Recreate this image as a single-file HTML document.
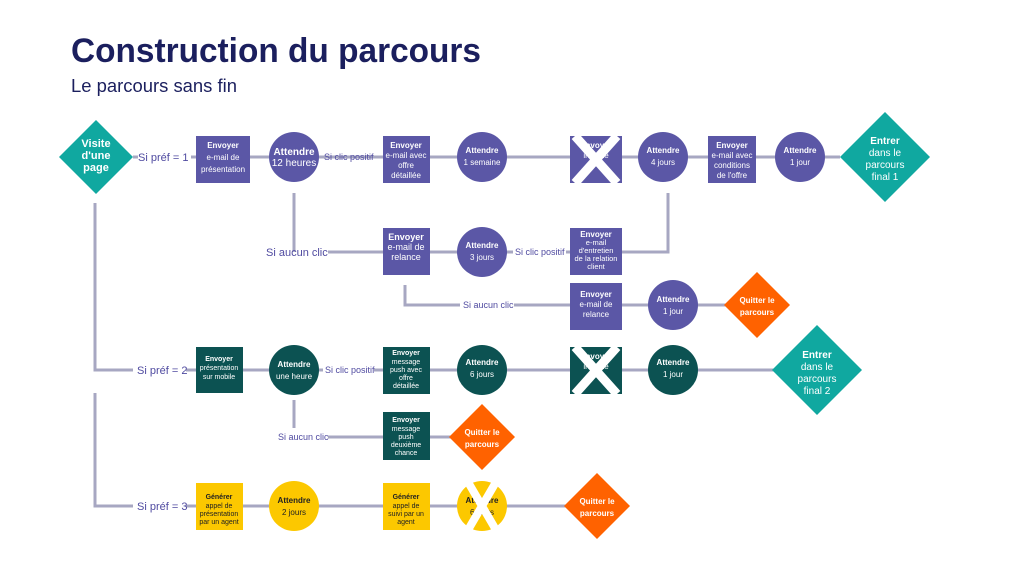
<!DOCTYPE html>
<html><head><meta charset="utf-8"><style>
html,body{margin:0;padding:0;background:#fff;}
svg{display:block;font-family:"Liberation Sans",sans-serif;}
</style></head><body>
<svg width="1024" height="576" viewBox="0 0 1024 576" xmlns="http://www.w3.org/2000/svg">
<defs>
<style>
.ln{stroke:#a7a7c2;stroke-width:3;fill:none}
.lb{fill:#4f4aa0;font-size:11px}
.ls{fill:#4f4aa0;font-size:9px}
.w{fill:#fff;text-anchor:middle}
.k{fill:#222;text-anchor:middle}
</style>
</defs>
<text x="71" y="62" font-size="34" font-weight="bold" fill="#1b1f5e" textLength="410" lengthAdjust="spacingAndGlyphs">Construction du parcours</text>
<text x="71" y="92" font-size="18" fill="#1b1f5e" textLength="166" lengthAdjust="spacingAndGlyphs">Le parcours sans fin</text>

<!-- lines -->
<path class="ln" d="M133 157H138 M191 157H840"/>
<path class="ln" d="M294 193V252 M328 252H383 M430 252H513 M566 252H570 M622 252H668V193"/>
<path class="ln" d="M405 285V305H460 M514 305H570 M622 305H740"/>
<path class="ln" d="M95 203V370H133 M186 370H196 M243 370H323 M374 370H383 M430 370H790"/>
<path class="ln" d="M294 400V428 M328 437H383 M430 437H460"/>
<path class="ln" d="M95 393V506H133 M186 506H196 M243 506H570"/>

<!-- row labels -->
<text class="lb" x="138" y="161" font-size="12">Si préf  = 1</text>
<text class="ls" x="324" y="160">Si clic positif</text>
<text class="lb" x="266" y="256" font-size="12">Si aucun clic</text>
<text class="ls" x="515" y="255">Si clic positif</text>
<text class="ls" x="463" y="308">Si aucun clic</text>
<text class="lb" x="137" y="374">Si préf = 2</text>
<text class="ls" x="325" y="373">Si clic positif</text>
<text class="ls" x="278" y="440">Si aucun clic</text>
<text class="lb" x="137" y="510">Si préf = 3</text>

<!-- Row 1 -->
<polygon points="96,120 133,157 96,194 59,157" fill="#10a8a0"/>
<text class="w" x="96" y="147" font-size="11" font-weight="bold">Visite</text>
<text class="w" x="96" y="159" font-size="11" font-weight="bold">d'une</text>
<text class="w" x="96" y="171" font-size="11" font-weight="bold">page</text>

<rect x="196" y="136" width="54" height="47" fill="#5b57a6"/>
<text class="w" x="223" y="148" font-size="8" font-weight="bold">Envoyer</text>
<text class="w" x="223" y="160" font-size="8">e-mail de</text>
<text class="w" x="223" y="172" font-size="8">présentation</text>

<circle cx="294" cy="157" r="25" fill="#5b57a6"/>
<text class="w" x="294" y="155" font-size="10" font-weight="bold">Attendre</text>
<text class="w" x="294" y="166" font-size="10">12 heures</text>

<rect x="383" y="136" width="47" height="47" fill="#5b57a6"/>
<text class="w" x="406" y="148" font-size="8" font-weight="bold">Envoyer</text>
<text class="w" x="406" y="158" font-size="8">e-mail avec</text>
<text class="w" x="406" y="168" font-size="8">offre</text>
<text class="w" x="406" y="178" font-size="8">détaillée</text>

<circle cx="482" cy="157" r="25" fill="#5b57a6"/>
<text class="w" x="482" y="153" font-size="8" font-weight="bold">Attendre</text>
<text class="w" x="482" y="165" font-size="8">1 semaine</text>

<rect x="570" y="136" width="52" height="47" fill="#5b57a6"/>
<text class="w" x="596" y="148" font-size="8" font-weight="bold">Envoyer</text>
<text class="w" x="596" y="158" font-size="8">inscrite</text>
<path d="M575 136L617 183M617 136L575 183" stroke="#fff" stroke-width="9"/>

<circle cx="663" cy="157" r="25" fill="#5b57a6"/>
<text class="w" x="663" y="153" font-size="8" font-weight="bold">Attendre</text>
<text class="w" x="663" y="165" font-size="8">4 jours</text>

<rect x="708" y="136" width="48" height="47" fill="#5b57a6"/>
<text class="w" x="732" y="148" font-size="8" font-weight="bold">Envoyer</text>
<text class="w" x="732" y="158" font-size="8">e-mail avec</text>
<text class="w" x="732" y="168" font-size="8">conditions</text>
<text class="w" x="732" y="178" font-size="8">de l'offre</text>

<circle cx="800" cy="157" r="25" fill="#5b57a6"/>
<text class="w" x="800" y="153" font-size="8" font-weight="bold">Attendre</text>
<text class="w" x="800" y="165" font-size="8">1 jour</text>

<polygon points="885,112 930,157 885,202 840,157" fill="#10a8a0"/>
<text class="w" x="885" y="144" font-size="10" font-weight="bold">Entrer</text>
<text class="w" x="885" y="156" font-size="10">dans le</text>
<text class="w" x="885" y="168" font-size="10">parcours</text>
<text class="w" x="885" y="180" font-size="10">final 1</text>

<!-- Row 2 -->
<rect x="383" y="228" width="47" height="47" fill="#5b57a6"/>
<text class="w" x="406" y="240" font-size="9" font-weight="bold">Envoyer</text>
<text class="w" x="406" y="250" font-size="9">e-mail de</text>
<text class="w" x="406" y="260" font-size="9">relance</text>

<circle cx="482" cy="252" r="25" fill="#5b57a6"/>
<text class="w" x="482" y="248" font-size="8" font-weight="bold">Attendre</text>
<text class="w" x="482" y="260" font-size="8">3 jours</text>

<rect x="570" y="228" width="52" height="47" fill="#5b57a6"/>
<text class="w" x="596" y="237" font-size="8" font-weight="bold">Envoyer</text>
<text class="w" x="596" y="245" font-size="7.5">e-mail</text>
<text class="w" x="596" y="253" font-size="7.5">d'entretien</text>
<text class="w" x="596" y="261" font-size="7.5">de la relation</text>
<text class="w" x="596" y="269" font-size="7.5">client</text>

<!-- Row 3 -->
<rect x="570" y="283" width="52" height="47" fill="#5b57a6"/>
<text class="w" x="596" y="297" font-size="8" font-weight="bold">Envoyer</text>
<text class="w" x="596" y="307" font-size="8">e-mail de</text>
<text class="w" x="596" y="317" font-size="8">relance</text>

<circle cx="673" cy="305" r="25" fill="#5b57a6"/>
<text class="w" x="673" y="302" font-size="8" font-weight="bold">Attendre</text>
<text class="w" x="673" y="314" font-size="8">1 jour</text>

<polygon points="757,272 790,305 757,338 724,305" fill="#ff6200"/>
<text class="w" x="757" y="303" font-size="8" font-weight="bold">Quitter le</text>
<text class="w" x="757" y="315" font-size="8" font-weight="bold">parcours</text>

<!-- Row 4 -->
<rect x="196" y="347" width="47" height="46" fill="#0c5252"/>
<text class="w" x="219" y="361" font-size="7" font-weight="bold">Envoyer</text>
<text class="w" x="219" y="370" font-size="7">présentation</text>
<text class="w" x="219" y="379" font-size="7">sur mobile</text>

<circle cx="294" cy="370" r="25" fill="#0c5252"/>
<text class="w" x="294" y="367" font-size="8" font-weight="bold">Attendre</text>
<text class="w" x="294" y="379" font-size="8">une heure</text>

<rect x="383" y="347" width="47" height="47" fill="#0c5252"/>
<text class="w" x="406" y="355" font-size="7" font-weight="bold">Envoyer</text>
<text class="w" x="406" y="364" font-size="7">message</text>
<text class="w" x="406" y="372" font-size="7">push avec</text>
<text class="w" x="406" y="380" font-size="7">offre</text>
<text class="w" x="406" y="388" font-size="7">détaillée</text>

<circle cx="482" cy="370" r="25" fill="#0c5252"/>
<text class="w" x="482" y="365" font-size="8" font-weight="bold">Attendre</text>
<text class="w" x="482" y="377" font-size="8">6 jours</text>

<rect x="570" y="347" width="52" height="47" fill="#0c5252"/>
<text class="w" x="596" y="359" font-size="8" font-weight="bold">Envoyer</text>
<text class="w" x="596" y="369" font-size="8">inscrite</text>
<path d="M575 347L617 394M617 347L575 394" stroke="#fff" stroke-width="9"/>

<circle cx="673" cy="370" r="25" fill="#0c5252"/>
<text class="w" x="673" y="365" font-size="8" font-weight="bold">Attendre</text>
<text class="w" x="673" y="377" font-size="8">1 jour</text>

<polygon points="817,325 862,370 817,415 772,370" fill="#10a8a0"/>
<text class="w" x="817" y="358" font-size="10" font-weight="bold">Entrer</text>
<text class="w" x="817" y="370" font-size="10">dans le</text>
<text class="w" x="817" y="382" font-size="10">parcours</text>
<text class="w" x="817" y="394" font-size="10">final 2</text>

<!-- Row 5 -->
<rect x="383" y="412" width="47" height="48" fill="#0c5252"/>
<text class="w" x="406" y="422" font-size="7" font-weight="bold">Envoyer</text>
<text class="w" x="406" y="431" font-size="7">message</text>
<text class="w" x="406" y="439" font-size="7">push</text>
<text class="w" x="406" y="447" font-size="7">deuxième</text>
<text class="w" x="406" y="455" font-size="7">chance</text>

<polygon points="482,404 515,437 482,470 449,437" fill="#ff6200"/>
<text class="w" x="482" y="435" font-size="8" font-weight="bold">Quitter le</text>
<text class="w" x="482" y="447" font-size="8" font-weight="bold">parcours</text>

<!-- Row 6 -->
<rect x="196" y="483" width="47" height="47" fill="#fcc800"/>
<text class="k" x="219" y="499" font-size="7" font-weight="bold">Générer</text>
<text class="k" x="219" y="508" font-size="7">appel de</text>
<text class="k" x="219" y="516" font-size="7">présentation</text>
<text class="k" x="219" y="524" font-size="7">par un agent</text>

<circle cx="294" cy="506" r="25" fill="#fcc800"/>
<text class="k" x="294" y="503" font-size="8" font-weight="bold">Attendre</text>
<text class="k" x="294" y="515" font-size="8">2 jours</text>

<rect x="383" y="483" width="47" height="47" fill="#fcc800"/>
<text class="k" x="406" y="499" font-size="7" font-weight="bold">Générer</text>
<text class="k" x="406" y="508" font-size="7">appel de</text>
<text class="k" x="406" y="516" font-size="7">suivi par un</text>
<text class="k" x="406" y="524" font-size="7">agent</text>

<circle cx="482" cy="506" r="25" fill="#fcc800"/>
<text class="k" x="482" y="503" font-size="8" font-weight="bold">Attendre</text>
<text class="k" x="482" y="515" font-size="8">6 jours</text>
<path d="M468 482L496 530M496 482L468 530" stroke="#fff" stroke-width="8"/>

<polygon points="597,473 630,506 597,539 564,506" fill="#ff6200"/>
<text class="w" x="597" y="504" font-size="8" font-weight="bold">Quitter le</text>
<text class="w" x="597" y="516" font-size="8" font-weight="bold">parcours</text>
</svg>
</body></html>
